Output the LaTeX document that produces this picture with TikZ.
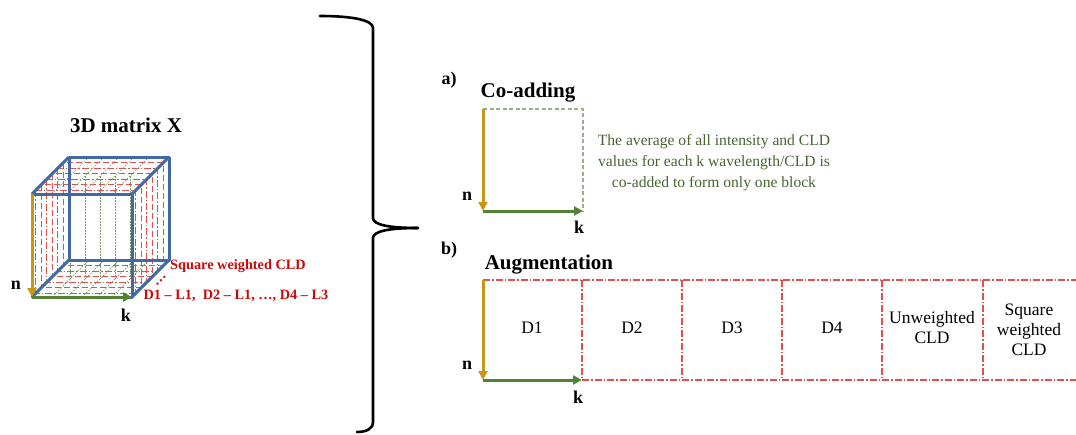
\documentclass[tikz,border=0pt]{standalone}
\usepackage{fontspec}
\setmainfont{Liberation Serif}
\usetikzlibrary{arrows.meta}
\definecolor{cubeblue}{RGB}{65,105,165}
\definecolor{nOrange}{RGB}{200,150,20}
\definecolor{kGreen}{RGB}{84,130,53}
\definecolor{redtext}{RGB}{200,10,10}
\definecolor{redline}{RGB}{225,80,80}
\definecolor{greentext}{RGB}{70,100,50}
\definecolor{greendash}{RGB}{150,180,130}
\begin{document}
\begin{tikzpicture}[x=1pt,y=-1pt,
  ax/.style={line width=3pt,-{Triangle[length=9pt,width=9pt]}},
  nax/.style={ax,draw=nOrange},
  kax/.style={ax,draw=kGreen},
  lbl/.style={font=\bfseries\fontsize{18}{18}\selectfont,inner sep=0},
  ttl/.style={font=\bfseries\fontsize{21}{21}\selectfont,inner sep=0},
  redtx/.style={font=\bfseries\fontsize{14.3}{14.3}\selectfont,text=redtext,inner sep=0},
  cell/.style={font=\fontsize{17.5}{20}\selectfont,align=center,inner sep=0},
  redln/.style={draw=redline,line width=1.1pt,dash pattern=on 7pt off 2pt on 1.5pt off 2pt},
  redln2/.style={draw=redline,line width=1.1pt,dash pattern=on 6pt off 3pt},
  grnln/.style={draw=kGreen!80,line width=0.7pt,dash pattern=on 1.5pt off 1.5pt},
  cubeedge/.style={draw=cubeblue,line width=3pt,line join=round},
]
\useasboundingbox (0,0) rectangle (1076,434);

% ---------- cube ----------
\coordinate (FTL) at (32,194);
\coordinate (FTR) at (132,194);
\coordinate (FBL) at (32,297);
\coordinate (FBR) at (132,297);
\coordinate (BTL) at (69,157);
\coordinate (BTR) at (169,157);
\coordinate (BBL) at (69,260);
\coordinate (BBR) at (169,260);

% red slices parallel to front face
\foreach \t [count=\i] in {0.1,0.25,0.4,0.55,0.7,0.85}{
  \pgfmathsetmacro{\dx}{37*\t}
  \ifodd\i
    \draw[redln] (32+\dx,194-\dx) rectangle (132+\dx,297-\dx);
  \else
    \draw[redln2] (32+\dx,194-\dx) rectangle (132+\dx,297-\dx);
  \fi
}
% green slices parallel to side face
\foreach \s in {0.2,0.35,0.5,0.65,0.8}{
  \pgfmathsetmacro{\kx}{100*\s}
  \draw[grnln] (32+\kx,194) -- (69+\kx,157);
  \draw[grnln] (32+\kx,297) -- (69+\kx,260);
  \draw[grnln] (50+\kx,176) -- (50+\kx,279);
}

% blue edges
\draw[cubeedge] (BTL) -- (BTR) -- (BBR) -- (BBL) -- cycle;
\draw[cubeedge] (FTL) -- (BTL) (FTR) -- (BTR) (FBR) -- (BBR) (FBL) -- (BBL);
\draw[cubeedge] (FTL) -- (FTR) -- (FBR) -- (FBL) -- cycle;

\draw[nax] (FTL) -- (FBL);
\draw[kax] (FBL) -- (FBR);

\node[ttl] (title) at (126,125) {3D matrix X};
\node[lbl] (n0) at (16,285) {n};
\node[lbl] (k0) at (126,315) {k};
\node[redtx] (sq) at (238,266) {Square weighted CLD};
\node[redtx] (dl) at (236,296) {D1 – L1,\ \ D2 – L1, …, D4 – L3};
\node[redtx,rotate=45] (dots) at (161,281) {…};

% ---------- brace ----------
\coordinate (btop) at (320,16);
\coordinate (btip) at (418,228);
\coordinate (bbot) at (357,432);
\draw[line width=2.6pt,line cap=round]
  (btop) .. controls (352,16) and (373,20) .. (373,28) -- (373,218)
  .. controls (373,225) and (390,228) .. (btip);
\draw[line width=2.6pt,line cap=round]
  (btip) .. controls (390,228) and (373,231) .. (373,238) -- (373,422)
  .. controls (373,429) and (366,432) .. (bbot);

% ---------- panel a ----------
\node[lbl] (la) at (449,80) {a)};
\node[ttl] (coadd) at (528,93) {Co-adding};
\coordinate (aTL) at (483,109);
\coordinate (aBL) at (483,211);
\coordinate (aBR) at (583,211);
\coordinate (aTR) at (583,109);
\draw[draw=greendash,line width=1.1pt,dash pattern=on 4pt off 2.5pt] (aTL) -- (aTR) -- (aBR);
\draw[nax] (aTL) -- (aBL);
\draw[kax] (aBL) -- (aBR);
\node[lbl] (na) at (467,196) {n};
\node[lbl] (ka) at (579,227) {k};
\node[font=\fontsize{15.6}{21}\selectfont,text=greentext,align=center,inner sep=0] (atext) at (714,163)
  {The average of all intensity and CLD\\values for each k wavelength/CLD is\\co-added to form only one block};

% ---------- panel b ----------
\node[lbl] (lb) at (449,250) {b)};
\node[ttl] (aug) at (549,265) {Augmentation};
\coordinate (bTL) at (483,280);
\coordinate (bBL) at (483,380);
\coordinate (bBR) at (582,380);
\coordinate (bTE) at (1076,280);
\coordinate (bBE) at (1076,380);
\draw[redln] (bTL) -- (bTE);
\draw[redln] (bBR) -- (bBE);
\foreach \x/\nm in {582/d1,682/d2,782/d3,882/d4,983/d5}{
  \coordinate (\nm t) at (\x,280);
  \coordinate (\nm b) at (\x,380);
  \draw[redln] (\nm t) -- (\nm b);
}
\draw[nax] (bTL) -- (bBL);
\draw[kax] (bBL) -- (bBR);
\node[lbl] (nb) at (467,365) {n};
\node[lbl] (kb) at (578,397) {k};
\node[cell] (D1) at (532,328) {D1};
\node[cell] (D2) at (632,328) {D2};
\node[cell] (D3) at (732,328) {D3};
\node[cell] (D4) at (832,328) {D4};
\node[cell] (UW) at (932,328) {Unweighted\\CLD};
\node[cell] (SW) at (1029,330) {Square\\weighted\\CLD};
\end{tikzpicture}
\end{document}
